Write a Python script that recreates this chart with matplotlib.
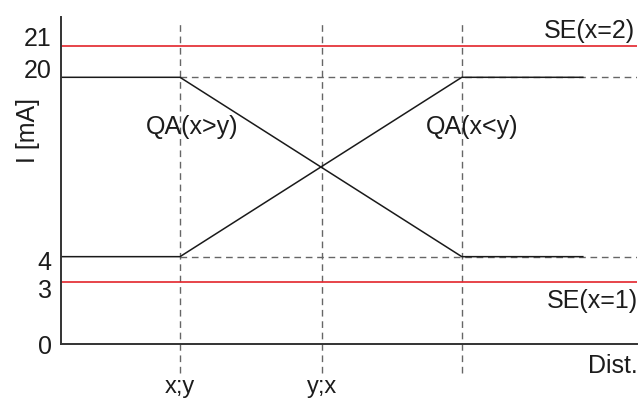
import numpy as np
import matplotlib
matplotlib.use('Agg')
import matplotlib.pyplot as plt
from matplotlib.transforms import ScaledTranslation

plt.rcParams['font.family'] = ['Liberation Sans', 'DejaVu Sans']

# --------- schematic data: output current (mA) over distance (arbitrary units)
dist = [0, 20.7, 69.6, 90.6]            # start, x;y, end of ramp, end of trace
qa_x_gt_y = [20, 20, 4, 4]               # QA(x>y)
qa_x_lt_y = [4, 4, 20, 20]               # QA(x<y)

se_levels = [21, 3]                      # switching outputs
se_labels = ['SE(x=2)', 'SE(x=1)']

ref_levels = [20, 4]                     # dashed guide levels
marker_x = [20.7, 45.3, 69.6]            # dashed vertical markers
marker_labels = ['x;y', 'y;x', '']

y_ticks = [0, 3, 4, 20, 21]
y_tick_labels = ['0', '3', '4', '20', '21']

# schematic (non-linear) current axis
ma_pts = [0, 3, 4, 20, 21, 22]
pos_pts = [0, 0.1896, 0.268, 0.8165, 0.912, 1.0]


def fwd(v):
    return np.interp(v, ma_pts, pos_pts)


def inv(p):
    return np.interp(p, pos_pts, ma_pts)


W, H = 641, 399
fig = plt.figure(figsize=(W / 100, H / 100), dpi=100)
ax = fig.add_axes([60.7 / W, (H - 344.3) / H, 576.3 / W, 327 / H])
ax.set_yscale('function', functions=(fwd, inv))
ax.set_xlim(0, 100)
ax.set_ylim(0, 22)

dash = (0, (4.8, 3.4))
grey = '#666666'
txt = '#1c1c1c'
fs = 18

# vertical guides (run past the axes)
for xv in marker_x:
    ax.plot([xv, xv], [-0.088, 0.982], transform=ax.get_xaxis_transform(),
            clip_on=False, ls=dash, color=grey, lw=1)

# horizontal guides from x;y to the right
for lv in ref_levels:
    ax.plot([marker_x[0], 100], [lv, lv], ls=dash, color=grey, lw=1)

# switching thresholds
for lv in se_levels:
    ax.plot([0, 100], [lv, lv], color='#e3242b', lw=1.2)

# analog outputs
ax.plot(dist, qa_x_gt_y, color='#1a1a1a', lw=1.1)
ax.plot(dist, qa_x_lt_y, color='#1a1a1a', lw=1.1)

# axes styling
for s in ['top', 'right']:
    ax.spines[s].set_visible(False)
for s in ['left', 'bottom']:
    ax.spines[s].set_linewidth(1.4)
    ax.spines[s].set_color('#333333')

ax.set_xticks([])
ax.set_yticks(y_ticks)
ax.set_yticklabels(y_tick_labels, fontsize=fs, color=txt)
ax.tick_params(axis='y', length=0, pad=6.5)

# labels in the original sit a little off their levels
offsets_px = {'21': -9.5, '20': -8.8, '4': 3.8, '3': 5.7, '0': 0}
for lab in ax.get_yticklabels():
    dy = -offsets_px.get(lab.get_text(), 0) / 100
    lab.set_transform(lab.get_transform() + ScaledTranslation(0, dy, fig.dpi_scale_trans))

# marker labels below the axis
for xv, lab in zip(marker_x, marker_labels):
    ax.text(xv, -0.148, lab, transform=ax.get_xaxis_transform(),
            ha='center', va='baseline', fontsize=17, color=txt)

ax.text(-0.0567, 0.655, 'I [mA]', transform=ax.transAxes, rotation=90,
        ha='center', va='center', fontsize=fs, color=txt)
ax.text(1.0017, -0.066, 'Dist.', transform=ax.transAxes,
        ha='right', va='center', fontsize=fs, color=txt)

ax.text(0.2278, 0.6645, 'QA(x>y)', transform=ax.transAxes,
        ha='center', va='center', fontsize=fs, color=txt)
ax.text(0.7137, 0.6645, 'QA(x<y)', transform=ax.transAxes,
        ha='center', va='center', fontsize=fs, color=txt)

ax.text(0.9965, 0.958, se_labels[0], transform=ax.transAxes,
        ha='right', va='center', fontsize=fs, color=txt)
ax.text(1.0017, 0.1324, se_labels[1], transform=ax.transAxes,
        ha='right', va='center', fontsize=fs, color=txt)

fig.savefig('out.png', dpi=100)
